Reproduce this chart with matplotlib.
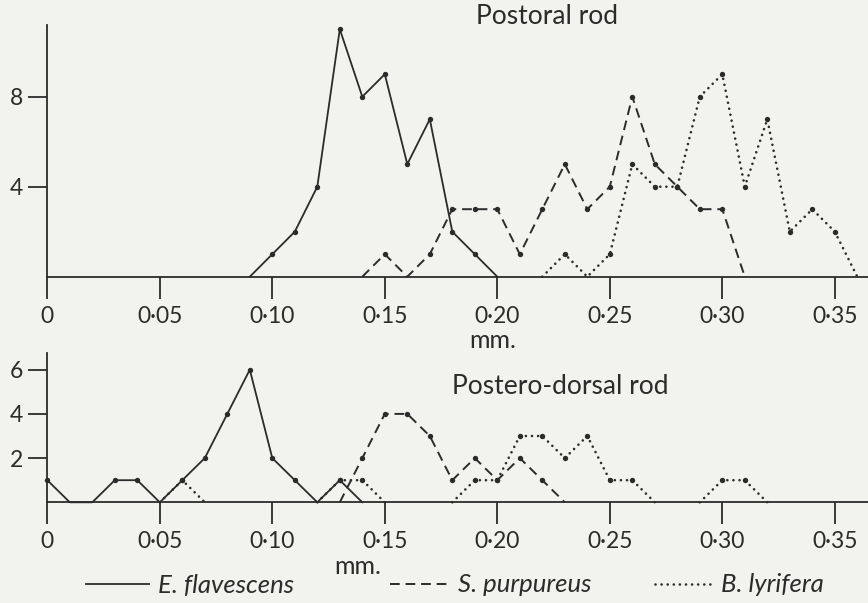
import matplotlib
matplotlib.use("Agg")
import matplotlib.pyplot as plt
import numpy as np
from matplotlib.lines import Line2D

# ---- data (counts per 0.01 mm length class) ----
# Postoral rod
po_flav_x = [0.09, 0.10, 0.11, 0.12, 0.13, 0.14, 0.15, 0.16, 0.17, 0.18, 0.19, 0.20]
po_flav_y = [0, 1, 2, 4, 11, 8, 9, 5, 7, 2, 1, 0]
po_purp_x = [0.14, 0.15, 0.16, 0.17, 0.18, 0.19, 0.20, 0.21, 0.22, 0.23, 0.24,
             0.25, 0.26, 0.27, 0.28, 0.29, 0.30, 0.31]
po_purp_y = [0, 1, 0, 1, 3, 3, 3, 1, 3, 5, 3, 4, 8, 5, 4, 3, 3, 0]
po_lyr_x = [0.22, 0.23, 0.24, 0.25, 0.26, 0.27, 0.28, 0.29, 0.30, 0.31, 0.32,
            0.33, 0.34, 0.35, 0.36]
po_lyr_y = [0, 1, 0, 1, 5, 4, 4, 8, 9, 4, 7, 2, 3, 2, 0]

# Postero-dorsal rod
pd_flav_x = [0.00, 0.01, 0.02, 0.03, 0.04, 0.05, 0.06, 0.07, 0.08, 0.09, 0.10,
             0.11, 0.12, 0.13, 0.14]
pd_flav_y = [1, 0, 0, 1, 1, 0, 1, 2, 4, 6, 2, 1, 0, 1, 0]
pd_purp_x = [0.13, 0.14, 0.15, 0.16, 0.17, 0.18, 0.19, 0.20, 0.21, 0.22, 0.23]
pd_purp_y = [0, 2, 4, 4, 3, 1, 2, 1, 2, 1, 0]
pd_lyr_x = [0.05, 0.06, 0.07, 0.08, 0.09, 0.10, 0.11, 0.12, 0.13, 0.14, 0.15,
            0.16, 0.17, 0.18, 0.19, 0.20, 0.21, 0.22, 0.23, 0.24, 0.25, 0.26,
            0.27, 0.28, 0.29, 0.30, 0.31, 0.32]
pd_lyr_y = [0, 1, 0, 0, 0, 0, 0, 0, 1, 1, 0, 0, 0, 0, 1, 1, 3, 3, 2, 3, 1, 1,
            0, 0, 0, 1, 1, 0]

x_ticks = [0, 0.05, 0.10, 0.15, 0.20, 0.25, 0.30, 0.35]
x_tick_labels = ["0", "0\u00b705", "0\u00b710", "0\u00b715", "0\u00b720",
                 "0\u00b725", "0\u00b730", "0\u00b735"]
species = ["E. flavescens", "S. purpureus", "B. lyrifera"]

# ---- styling ----
W, H = 868, 603
bg = "#f2f2ef"
ink = "#2b2b2b"
font = "Lato"
plt.rcParams["font.family"] = [font, "DejaVu Sans"]

styles = {
    "E. flavescens": dict(linestyle="-", lw=1.3),
    "S. purpureus": dict(linestyle=(0, (5, 3.0)), lw=1.4),
    "B. lyrifera": dict(linestyle=(0, (0.01, 2.3)), lw=1.9, dash_capstyle="round"),
}


def fx(px):
    return px / W


def fy(py):
    return 1 - py / H


def off_baseline(ys):
    # hide runs of zeros that just sit on the axis (keep the ends touching data)
    ys = np.asarray(ys, dtype=float)
    out = ys.copy()
    for i in range(len(ys)):
        if ys[i] == 0:
            left = i > 0 and ys[i - 1] > 0
            right = i < len(ys) - 1 and ys[i + 1] > 0
            if not (left or right):
                out[i] = np.nan
    return out


fig = plt.figure(figsize=(W / 100, H / 100), dpi=100, facecolor=bg)

x0 = 47.3
xmax = (W - x0) / 2250.0

# top panel: baseline at y=276.7 px, 22.5 px per unit
ax1 = fig.add_axes([fx(x0), fy(276.7), 1 - fx(x0), (276.7 - 25) / H])
ax1.set_ylim(0, (276.7 - 25) / 22.5)
ax1.set_yticks([4, 8])

# bottom panel: baseline at y=502.3 px, 22.1 px per unit
ax2 = fig.add_axes([fx(x0), fy(502.3), 1 - fx(x0), (502.3 - 353.3) / H])
ax2.set_ylim(0, (502.3 - 353.3) / 22.1)
ax2.set_yticks([2, 4, 6])

for ax, series in [
    (ax1, [(po_flav_x, po_flav_y), (po_purp_x, po_purp_y), (po_lyr_x, po_lyr_y)]),
    (ax2, [(pd_flav_x, pd_flav_y), (pd_purp_x, pd_purp_y), (pd_lyr_x, pd_lyr_y)]),
]:
    for name, (xs, ys) in zip(species, series):
        ax.plot(xs, off_baseline(ys), color=ink, clip_on=False, **styles[name])
        mx = [a for a, b in zip(xs, ys) if b > 0]
        my = [b for b in ys if b > 0]
        ax.scatter(mx, my, s=15, color=ink, zorder=3, clip_on=False, linewidths=0)

    ax.set_facecolor("none")
    ax.set_xlim(0, xmax)
    ax.set_xticks(x_ticks)
    ax.set_xticklabels(x_tick_labels)
    for side in ("top", "right"):
        ax.spines[side].set_visible(False)
    for side in ("left", "bottom"):
        ax.spines[side].set_color(ink)
        ax.spines[side].set_linewidth(1.3)
    ax.tick_params(axis="x", direction="out", length=15.8, width=1.3, pad=5,
                   labelsize=16.5, colors=ink)
    ax.tick_params(axis="y", direction="out", length=13.5, width=1.3, pad=4,
                   labelsize=16.5, colors=ink)

# titles and units
fig.text(fx(547), fy(17), "Postoral rod", ha="center", va="center",
         fontsize=19, color=ink)
fig.text(fx(560), fy(387), "Postero-dorsal rod", ha="center", va="center",
         fontsize=19, color=ink)
fig.text(fx(493), fy(340), "mm.", ha="center", va="center", fontsize=18, color=ink)
fig.text(fx(358), fy(567), "mm.", ha="center", va="center", fontsize=18, color=ink)

# legend: one entry per legend so each can be placed like the original
legend_pos = {"E. flavescens": (86, 64), "S. purpureus": (390, 60),
              "B. lyrifera": (655, 58)}
for name in species:
    left, length = legend_pos[name]
    h = Line2D([], [], color=ink, **styles[name])
    leg = fig.legend(handles=[h], labels=[name], loc="center left",
                     bbox_to_anchor=(fx(left), fy(585)), frameon=False,
                     borderpad=0, borderaxespad=0,
                     handlelength=length / 26.0, handletextpad=0.35,
                     prop={"family": font, "style": "italic", "size": 18.5})
    for t in leg.get_texts():
        t.set_color(ink)

fig.savefig("out.png", dpi=100, facecolor=bg)
